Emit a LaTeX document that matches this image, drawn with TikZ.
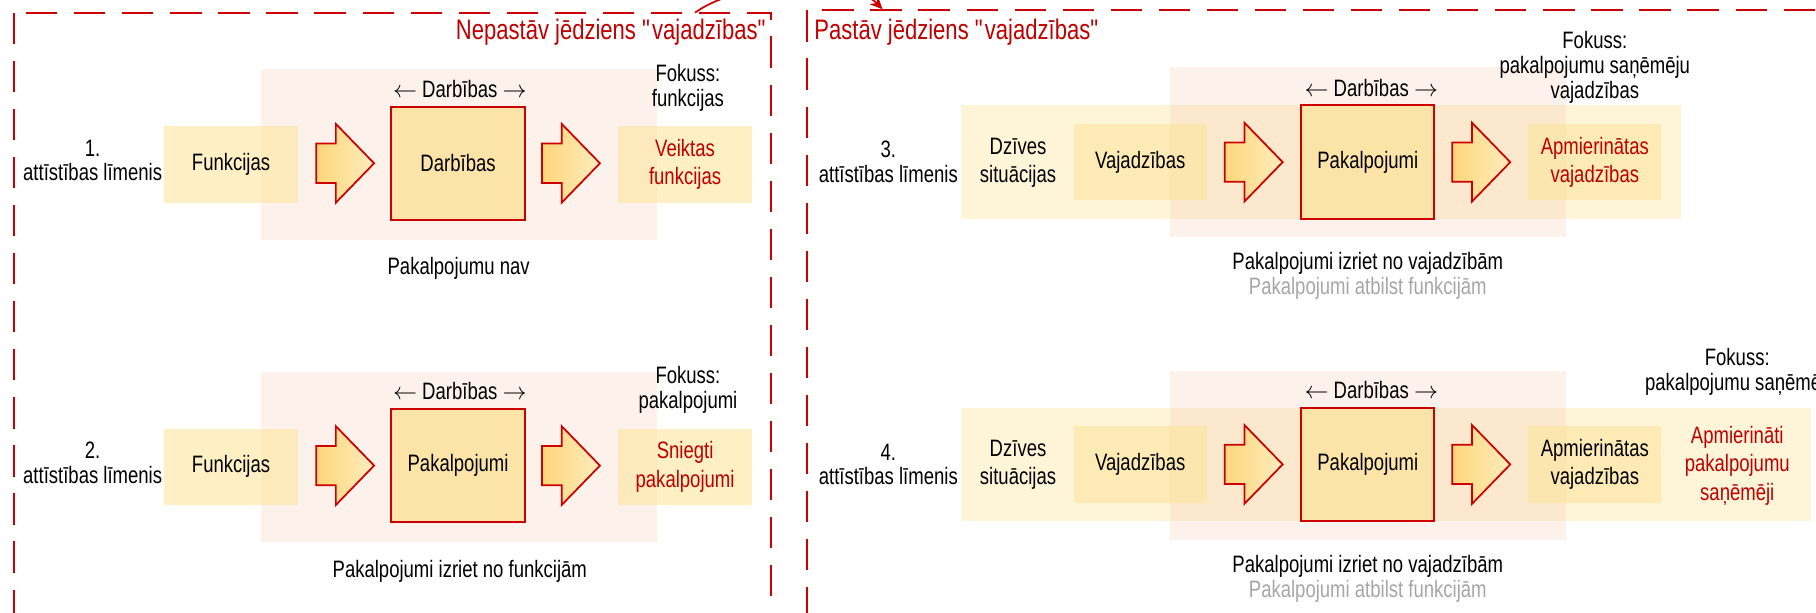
\documentclass[tikz,border=0pt]{standalone}
\usepackage{fontspec}
\setmainfont{Liberation Sans}[FakeStretch=0.78]
\usetikzlibrary{arrows.meta}
\definecolor{framered}{RGB}{204,0,0}
\definecolor{txtred}{RGB}{192,0,0}
\definecolor{boxyellow}{RGB}{253,228,157}
\definecolor{bgpink}{RGB}{242,198,174}
\definecolor{actyellow}{RGB}{252,228,168}
\definecolor{shadedark}{RGB}{253,214,122}
\definecolor{shadelight}{RGB}{254,236,190}
\definecolor{notegray}{RGB}{166,166,166}
\newcommand{\dq}{\textquotedbl}
\newcommand{\darb}{$\leftarrow$ Darbības $\rightarrow$}

\begin{document}
\begin{tikzpicture}[
    x=1pt, y=-1pt,
    lbl/.style={font=\fontsize{20.5}{21.5}\selectfont, align=center, inner sep=0pt},
    boxtext/.style={font=\fontsize{20.5}{24.5}\selectfont, align=center, inner sep=0pt},
    box/.style={boxtext, fill=boxyellow, fill opacity=0.6, text opacity=1, minimum width=115pt, minimum height=66pt},
    actbox/.style={boxtext, draw=framered, line width=1.7pt, fill=actyellow, minimum width=115pt, minimum height=98pt},
    band/.style={fill=boxyellow, fill opacity=0.4},
    pinkband/.style={fill=bgpink, fill opacity=0.25},
    frame/.style={draw=framered, line width=1.8pt, dash pattern=on 27pt off 14.5pt},
    title/.style={text=txtred, font=\fontsize{24.4}{28}\selectfont, inner sep=0pt},
    link/.style={draw=framered, line width=1.5pt, -{Stealth[length=11pt,width=10pt]}},
    blockarrow/.pic={\draw[draw=framered, line width=1.5pt, left color=shadedark, right color=shadelight]
        (-25,-17) -- (-8,-17) -- (-8,-34) -- (25,0) -- (-8,34) -- (-8,17) -- (-25,17) -- cycle;}
]
    \useasboundingbox (0,0) rectangle (1568,529);
    \clip (0,0) rectangle (1568,529);

    % Background bands
    \fill[pinkband] (225,60) rectangle (567,207);
    \fill[pinkband] (225,321) rectangle (567,468);
    \fill[band] (830,91) rectangle (1451,189);
    \fill[pinkband] (1010,58) rectangle (1352,205);
    \fill[band] (830,352) rectangle (1564,450);
    \fill[pinkband] (1010,320) rectangle (1352,466);

    % Level 1
    \node[lbl] (lvlA) at (80,138.5) {1.\\attīstības līmenis};
    \node[box] (funcA) at (199.5,142) {Funkcijas};
    \pic (arrA1) at (298,141) {blockarrow};
    \node[actbox] (actA) at (395.5,141) {Darbības};
    \pic (arrA2) at (493,141) {blockarrow};
    \node[box, text=txtred] (resA) at (591.5,142) {Veiktas\\funkcijas};
    \node[lbl] (dirA) at (397,77) {\darb};
    \node[lbl] (focA) at (594,75.5) {Fokuss:\\funkcijas};
    \node[lbl] (noteA) at (396,232) {Pakalpojumu nav};

    % Level 2
    \node[lbl] (lvlB) at (80,399.5) {2.\\attīstības līmenis};
    \node[box] (funcB) at (199.5,403) {Funkcijas};
    \pic (arrB1) at (298,402) {blockarrow};
    \node[actbox] (actB) at (395.5,402) {Pakalpojumi};
    \pic (arrB2) at (493,402) {blockarrow};
    \node[box, text=txtred] (resB) at (591.5,403) {Sniegti\\pakalpojumi};
    \node[lbl] (dirB) at (397,338) {\darb};
    \node[lbl] (focB) at (594,336.5) {Fokuss:\\pakalpojumi};
    \node[lbl] (noteB) at (397,493) {Pakalpojumi izriet no funkcijām};

    % Level 3
    \node[lbl] (lvlC) at (767,140) {3.\\attīstības līmenis};
    \node[boxtext] (lifeC) at (879,140.5) {Dzīves\\situācijas};
    \node[box] (needC) at (984.5,140) {Vajadzības};
    \pic (arrC1) at (1082.5,140) {blockarrow};
    \node[actbox] (actC) at (1181,140) {Pakalpojumi};
    \pic (arrC2) at (1279,140) {blockarrow};
    \node[box, text=txtred] (resC) at (1377,140) {Apmierinātas\\vajadzības};
    \node[lbl] (dirC) at (1184,76) {\darb};
    \node[lbl] (focC) at (1377,58.5) {Fokuss:\\pakalpojumu saņēmēju\\vajadzības};
    \node[lbl] (noteC) at (1181,227) {Pakalpojumi izriet no vajadzībām};
    \node[lbl, text=notegray] (grayC) at (1181,249) {Pakalpojumi atbilst funkcijām};

    % Level 4
    \node[lbl] (lvlD) at (767,401) {4.\\attīstības līmenis};
    \node[boxtext] (lifeD) at (879,401.5) {Dzīves\\situācijas};
    \node[box] (needD) at (984.5,401) {Vajadzības};
    \pic (arrD1) at (1082.5,401) {blockarrow};
    \node[actbox] (actD) at (1181,401) {Pakalpojumi};
    \pic (arrD2) at (1279,401) {blockarrow};
    \node[box] (resD) at (1377,401) {Apmierinātas\\vajadzības};
    \node[boxtext, text=txtred] (gainD) at (1500,402) {Apmierināti\\pakalpojumu\\saņēmēji};
    \node[lbl] (dirD) at (1184,337) {\darb};
    \node[lbl] (focD) at (1500,321.5) {Fokuss:\\pakalpojumu saņēmēji};
    \node[lbl] (noteD) at (1181,489) {Pakalpojumi izriet no vajadzībām};
    \node[lbl, text=notegray] (grayD) at (1181,511) {Pakalpojumi atbilst funkcijām};

    % Frames and titles
    \draw[frame] (12,11) rectangle (666,600);
    \draw[frame] (697,9) rectangle (1620,600);
    \node[title, anchor=east] (titleL) at (663,28) {Nepastāv jēdziens \dq vajadzības\dq};
    \node[title, anchor=west] (titleR) at (703,28) {Pastāv jēdziens \dq vajadzības\dq};

    \coordinate (linkS) at (600,11);
    \coordinate (linkE) at (762,8);
    \draw[link] (linkS) .. controls (640,-18) and (735,-20) .. (linkE);
\end{tikzpicture}
\end{document}
